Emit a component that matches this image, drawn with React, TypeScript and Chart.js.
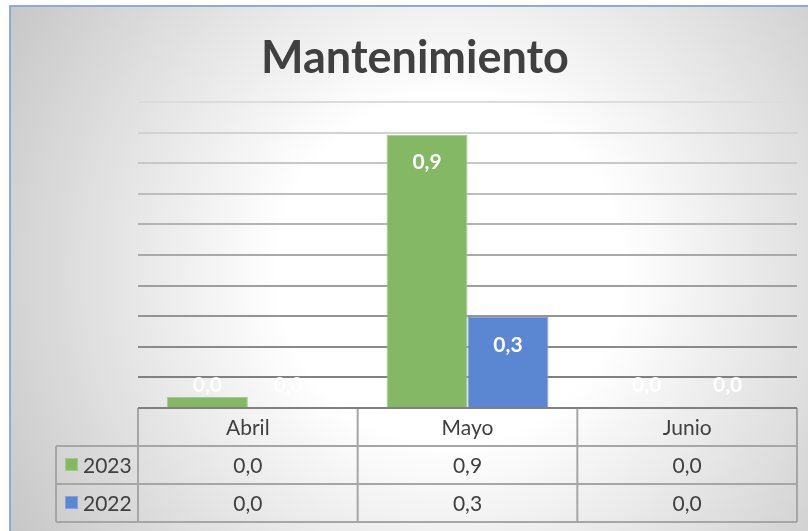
import React, { useEffect, useRef } from "react";
import { Chart, registerables } from "chart.js";

Chart.register(...registerables);

const chartTitle = "Mantenimiento";
const categories = ["Abril", "Mayo", "Junio"];
const seriesNames = ["2023", "2022"];
const values2023 = [0.036, 0.893, 0];
const values2022 = [0, 0.297, 0];
const yMax = 1;
const yStep = 0.1;

const fmt = (v: number) => v.toFixed(1).replace(".", ",");
const FONT = "Lato, 'Open Sans', sans-serif";
const TEXT = "#404040";

const bgPlugin = {
  id: "bgPlugin",
  beforeDraw(chart: any) {
    const ctx = chart.ctx;
    const W = chart.width, H = chart.height;
    ctx.save();
    ctx.fillStyle = "#ffffff";
    ctx.fillRect(0, 0, W, H);
    const g = ctx.createRadialGradient(450, 270, 0, 450, 270, 540);
    g.addColorStop(0, "#ffffff");
    g.addColorStop(0.32, "#ffffff");
    g.addColorStop(1, "#c2c2c2");
    ctx.fillStyle = g;
    ctx.fillRect(10, 6, W, H);
    ctx.strokeStyle = "#8eaadb";
    ctx.lineWidth = 2;
    ctx.beginPath();
    ctx.moveTo(10, H + 5);
    ctx.lineTo(10, 6);
    ctx.lineTo(W + 5, 6);
    ctx.stroke();
    ctx.restore();
  },
};

const labelPlugin = {
  id: "labelPlugin",
  afterDatasetsDraw(chart: any) {
    const ctx = chart.ctx;
    const base = chart.scales.y.getPixelForValue(0);
    ctx.save();
    ctx.font = `bold 21px ${FONT}`;
    ctx.fillStyle = "#ffffff";
    ctx.textAlign = "center";
    ctx.textBaseline = "alphabetic";
    chart.data.datasets.forEach((ds: any, di: number) => {
      const meta = chart.getDatasetMeta(di);
      meta.data.forEach((bar: any, i: number) => {
        const cy = Math.min(bar.y + 27, base - 24);
        ctx.fillText(fmt(ds.data[i]), bar.x, cy + 7.5);
      });
    });
    ctx.restore();
  },
};

const tablePlugin = {
  id: "tablePlugin",
  afterDraw(chart: any) {
    const ctx = chart.ctx;
    const area = chart.chartArea;
    const xs = chart.scales.x;
    const top = chart.scales.y.getPixelForValue(0);
    const rowH = 38;
    const legendLeft = 56;
    const n = categories.length;
    const colW = (area.right - area.left) / n;
    const bottom = top + rowH * 3;
    ctx.save();
    // title
    ctx.font = `bold 45px ${FONT}`;
    ctx.fillStyle = TEXT;
    ctx.textAlign = "center";
    ctx.textBaseline = "alphabetic";
    ctx.fillText(chartTitle, 415, 73);

    // table lines
    ctx.strokeStyle = "#a6a6a6";
    ctx.lineWidth = 2;
    ctx.beginPath();
    for (let r = 1; r <= 3; r++) {
      ctx.moveTo(legendLeft, top + rowH * r);
      ctx.lineTo(area.right, top + rowH * r);
    }
    ctx.moveTo(legendLeft, top + rowH);
    ctx.lineTo(legendLeft, bottom);
    for (let c = 0; c <= n; c++) {
      const x = area.left + colW * c;
      ctx.moveTo(x, top);
      ctx.lineTo(x, bottom);
    }
    ctx.stroke();
    ctx.strokeStyle = "#808080";
    ctx.beginPath();
    ctx.moveTo(area.left, top);
    ctx.lineTo(area.right, top);
    ctx.stroke();

    // header
    ctx.fillStyle = TEXT;
    ctx.font = `21px ${FONT}`;
    categories.forEach((c, i) => {
      ctx.fillText(c, xs.getPixelForValue(i), top + rowH / 2 + 7.5);
    });
    // rows
    chart.data.datasets.forEach((ds: any, di: number) => {
      const rowTop = top + rowH * (di + 1);
      const cy = rowTop + rowH / 2;
      ds.data.forEach((v: number, i: number) => {
        ctx.fillStyle = TEXT;
        ctx.textAlign = "center";
        ctx.fillText(fmt(v), xs.getPixelForValue(i), cy + 7.5);
      });
      ctx.fillStyle = ds.borderColor;
      ctx.fillRect(65, cy - 7, 13, 13);
      ctx.fillStyle = ds.backgroundColor;
      ctx.fillRect(66, cy - 6, 11, 11);
      ctx.fillStyle = TEXT;
      ctx.textAlign = "left";
      ctx.fillText(seriesNames[di], 83, cy + 7.5);
    });
    ctx.restore();
  },
};

export default function App() {
  const ref = useRef<HTMLCanvasElement>(null);
  useEffect(() => {
    if (!ref.current) return;
    const chart = new Chart(ref.current, {
      type: "bar",
      data: {
        labels: categories,
        datasets: [
          {
            label: seriesNames[0],
            data: values2023,
            backgroundColor: "#85b864",
            borderColor: "#a3cb8a",
            borderWidth: 1,
          },
          {
            label: seriesNames[1],
            data: values2022,
            backgroundColor: "#5b86d1",
            borderColor: "#82a2dd",
            borderWidth: 1,
          },
        ],
      },
      options: {
        responsive: false,
        animation: false,
        layout: { padding: { left: 138, right: 11, top: 102, bottom: 123 } },
        plugins: {
          legend: { display: false },
          title: { display: false },
          tooltip: { enabled: false },
        },
        datasets: { bar: { categoryPercentage: 0.737, barPercentage: 1 } },
        scales: {
          x: { display: false },
          y: {
            display: true,
            min: 0,
            max: yMax,
            ticks: { display: false, stepSize: yStep },
            border: { display: false },
            grid: {
              drawTicks: false,
              lineWidth: 2,
              color: (c: any) => {
                const v = c.tick ? c.tick.value : 0;
                if (v <= 0.001) return "rgba(0,0,0,0)";
                const t = (v - 0.1) / 0.9;
                const g = Math.round(0x80 + (0xdc - 0x80) * t);
                return `rgb(${g},${g},${g})`;
              },
            },
          },
        },
      },
      plugins: [bgPlugin, labelPlugin, tablePlugin],
    });
    return () => chart.destroy();
  }, []);
  return (
    <div style={{ position: "fixed", left: 0, top: 0, width: 808, height: 531 }}>
      <canvas ref={ref} width={808} height={531} style={{ display: "block" }} />
    </div>
  );
}
